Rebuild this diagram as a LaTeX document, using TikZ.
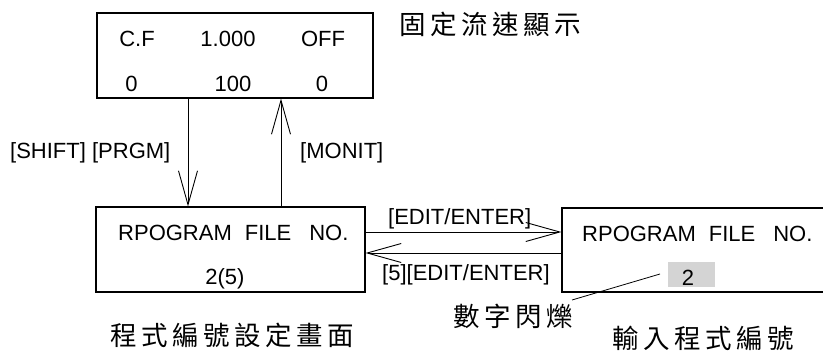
\documentclass[tikz,border=0pt]{standalone}
\usepackage{fontspec}
\setmainfont{Liberation Sans}
\newfontfamily\cjk{Noto Sans CJK TC}
\usetikzlibrary{arrows.meta}
\definecolor{flashgray}{RGB}{212,212,212}
\newcommand{\cg}{\hspace{4.5pt}}
\begin{document}
\begin{tikzpicture}[x=1pt,y=-1pt,
  box/.style={draw,line width=1.1pt,inner sep=0pt},
  lbl/.style={inner sep=0pt,font=\fontsize{22}{24}\selectfont},
  cjklbl/.style={inner sep=0pt,text height=22pt,text depth=3pt,font=\fontsize{26.5}{30}\selectfont\cjk},
  arr/.style={line width=1pt,-{Straight Barb[length=34pt,width=19pt,line width=0.9pt]}}]
\useasboundingbox (0,0) rectangle (823,353);
% boxes
\node[box,minimum width=276pt,minimum height=85pt] (top) at (235,55.5) {};
\node[box,minimum width=269pt,minimum height=85pt] (prog) at (230.5,249.5) {};
\node[box,minimum width=270pt,minimum height=84pt] (inp) at (697,250) {};
% top box texts
\node[lbl,anchor=base] (cf) at (137,47) {C.F};
\node[lbl,anchor=base] (one) at (228,47) {1.000};
\node[lbl,anchor=base] (off) at (323,47) {OFF};
\node[lbl,anchor=base] (z1) at (131.5,92) {0};
\node[lbl,anchor=base] (hund) at (233,92) {100};
\node[lbl,anchor=base] (z2) at (322,92) {0};
\node[cjklbl,anchor=center] (title) at (490,25) {固\cg 定\cg 流\cg 速\cg 顯\cg 示};
% program box texts
\node[lbl,anchor=base west] (pf1) at (118,240) {RPOGRAM\hspace{13pt}FILE\hspace{18pt}NO.};
\node[lbl,anchor=base] (num) at (225,284) {2(5)};
\node[cjklbl,anchor=center] (cap1) at (232,336) {程\cg 式\cg 編\cg 號\cg 設\cg 定\cg 畫\cg 面};
% input box texts
\node[lbl,anchor=base west] (pf2) at (582,241) {RPOGRAM\hspace{13pt}FILE\hspace{18pt}NO.};
\node[fill=flashgray,inner sep=0pt,minimum width=47pt,minimum height=25pt] (gray) at (691.5,274.5) {};
\node[lbl,anchor=base] (two) at (688,285) {2};
\node[cjklbl,anchor=center] (cap2) at (703.5,339) {輸\cg 入\cg 程\cg 式\cg 編\cg 號};
\node[cjklbl,anchor=center] (flash) at (513.5,317) {數\cg 字\cg 閃\cg 爍};
% arrow labels
\node[lbl,anchor=base west] (shift) at (10,158) {[SHIFT] [PRGM]};
\node[lbl,anchor=base west] (monit) at (300,158) {[MONIT]};
\node[lbl,anchor=base west] (edit) at (388,224) {[EDIT/ENTER]};
\node[lbl,anchor=base west] (edit5) at (382,280) {[5][EDIT/ENTER]};
% connectors
\coordinate (dx) at (188,0);
\coordinate (ux) at (281,0);
\coordinate (ay1) at (0,232);
\coordinate (ay2) at (0,253);
\draw[arr] (top.south -| dx) -- (prog.north -| dx);
\draw[arr] (prog.north -| ux) -- (top.south -| ux);
\draw[arr] (prog.east |- ay1) -- (inp.west |- ay1);
\draw[arr] (inp.west |- ay2) -- (prog.east |- ay2);
\coordinate (ls) at (572,300);
\coordinate (le) at (660,274);
\draw[line width=0.8pt] (ls) -- (le);
\end{tikzpicture}
\end{document}
